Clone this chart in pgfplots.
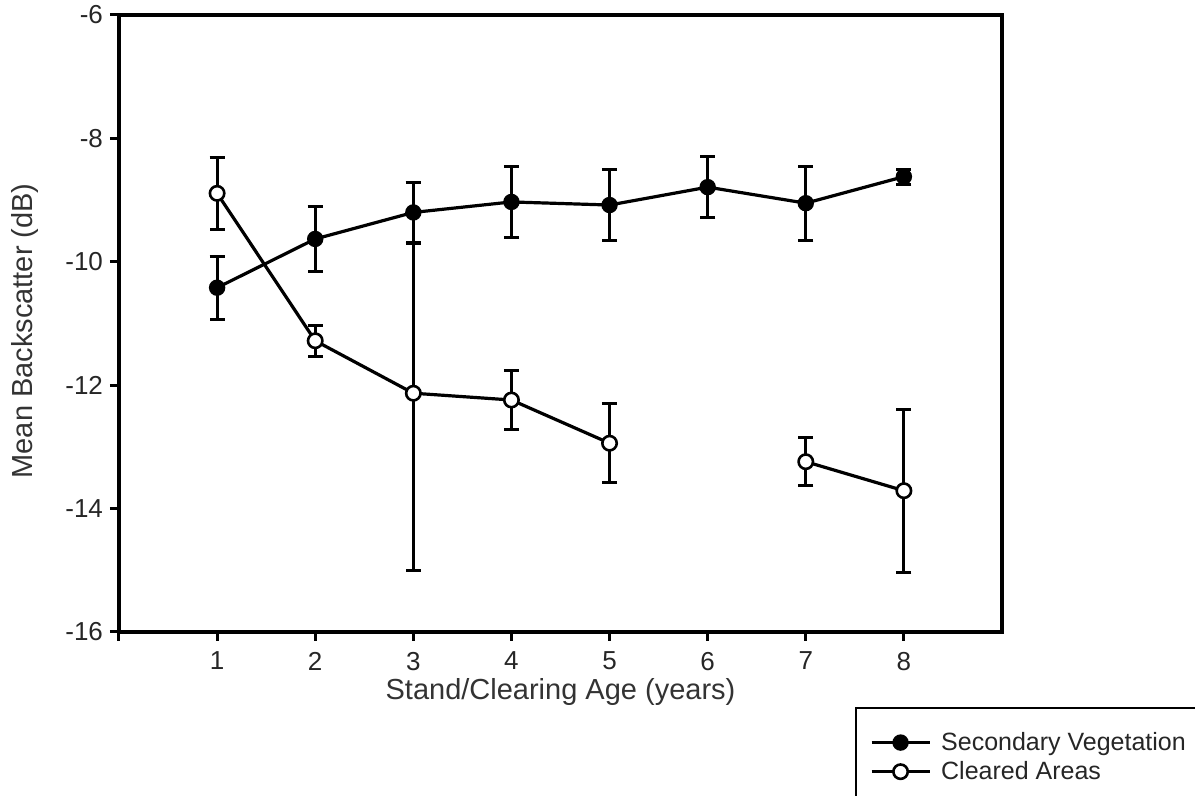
\documentclass[border=0pt]{standalone}
\usepackage{fontspec}
\setmainfont{Liberation Sans}
\usepackage{pgfplots}
\pgfplotsset{compat=1.18}
\begin{document}
\begin{tikzpicture}
\begin{axis}[
  scale only axis,
  width=441.5pt, height=308.5pt,
  xmin=0, xmax=9, ymin=-16, ymax=-6,
  xtick={0,1,2,3,4,5,6,7,8},
  xticklabels={,1,2,3,4,5,6,7,8},
  ytick={-16,-14,-12,-10,-8,-6},
  xtick pos=bottom, ytick pos=left,
  tick align=outside,
  major tick length=4.5pt,
  every tick/.style={black, line width=1.5pt},
  axis line style={line width=2pt},
  /pgf/number format/assume math mode=true,
  tick label style={font=\fontsize{13}{15}\selectfont, text=black!85},
  xticklabel style={yshift=-2pt},
  label style={font=\fontsize{14.5}{17}\selectfont, text=black!80},
  xlabel={Stand/Clearing Age (years)},
  ylabel={Mean Backscatter (dB)},
  xlabel style={at={(axis description cs:0.5,-0.097)}, anchor=center},
  ylabel style={at={(axis description cs:-0.1065,0.488)}, anchor=center},
  unbounded coords=jump,
  clip=false,
  legend style={at={(axis description cs:0.8335,-0.1216)}, anchor=north west,
    draw=black, line width=1pt, inner xsep=7pt, inner ysep=10pt,
    font=\fontsize{12.5}{14.5}\selectfont, text=black!85, row sep=0pt},
  legend cell align=left,
  legend image code/.code={%
    \draw[#1] (0pt,0pt) -- (29pt,0pt);
    \draw[#1, only marks] plot coordinates {(14.5pt,0pt)};},
]
\coordinate (O) at (rel axis cs:0,0);
\addplot+[black, line width=1.6pt, mark=*, mark size=3.6pt,
  mark options={solid, fill=black, line width=1pt},
  error bars/.cd, y dir=both, y explicit,
  error bar style={line width=1.5pt},
  error mark options={line width=1.5pt, mark size=3.8pt, rotate=90}]
coordinates {
 (1,-10.42) +- (0,0.51)
 (2,-9.63) +- (0,0.53)
 (3,-9.20) +- (0,0.49)
 (4,-9.03) +- (0,0.58)
 (5,-9.08) +- (0,0.58)
 (6,-8.79) +- (0,0.50)
 (7,-9.05) +- (0,0.60)
 (8,-8.62) +- (0,0.12)
};
\addlegendentry{\hspace*{3pt}Secondary Vegetation\hspace*{30pt}}
\addplot+[black, line width=1.6pt, mark=*, mark size=3.6pt,
  mark options={solid, fill=white, draw=black, line width=1.3pt},
  error bars/.cd, y dir=both, y explicit,
  error bar style={line width=1.5pt},
  error mark options={line width=1.5pt, mark size=3.8pt, rotate=90}]
coordinates {
 (1,-8.89) +- (0,0.58)
 (2,-11.28) +- (0,0.25)
 (3,-12.13) += (0,2.43) -= (0,2.87)
 (4,-12.24) +- (0,0.48)
 (5,-12.94) +- (0,0.64)
 (6,nan)
 (7,-13.24) +- (0,0.39)
 (8,-13.71) +- (0,1.32)
};
\addlegendentry{\hspace*{3pt}Cleared Areas\rule[-24pt]{0pt}{0pt}}
\end{axis}
\pgfresetboundingbox
\path ([shift={(-59.5pt,-82pt)}]O) rectangle ([shift={(538pt,316pt)}]O);
\end{tikzpicture}
\end{document}
